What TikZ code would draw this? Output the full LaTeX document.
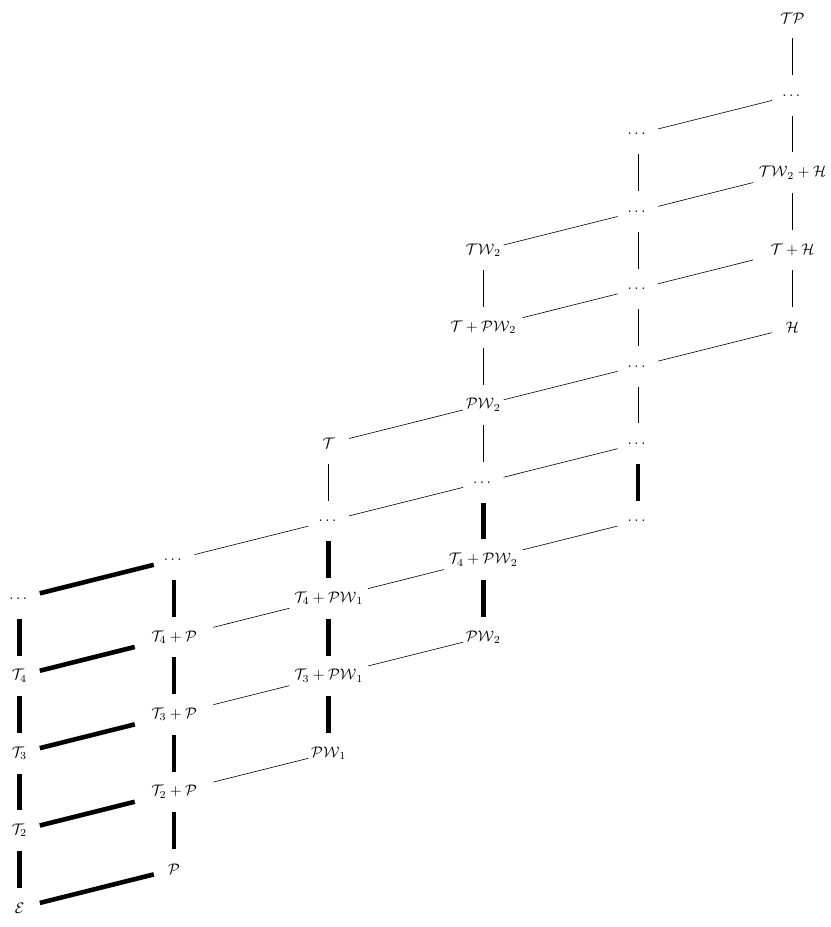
\documentclass[tikz,border=0pt]{standalone}
\usepackage{amsmath}
\begin{document}
\begin{tikzpicture}[x=0.655pt,y=-0.655pt,
  cell/.style={inner sep=0pt,minimum height=26.2pt,minimum width=26.2pt},
  widecell/.style={cell,minimum width=51.1pt},
  thickline/.style={line width=3pt},
  thinline/.style={line width=0.4pt}]
\useasboundingbox (0,0) rectangle (831,927);
\def\cx#1{19.5+154.6*#1}
\def\cy#1{908-38.7*#1}
% column 0
\node[cell] (e)  at ({\cx{0}},{\cy{0}}) {$\mathcal{E}$};
\node[cell] (t2) at ({\cx{0}},{\cy{2}}) {$\mathcal{T}_2$};
\node[cell] (t3) at ({\cx{0}},{\cy{4}}) {$\mathcal{T}_3$};
\node[cell] (t4) at ({\cx{0}},{\cy{6}}) {$\mathcal{T}_4$};
\node[cell] (d0) at ({\cx{0}},{\cy{8}}) {$\dots$};
% column 1
\node[cell]     (p)   at ({\cx{1}},{\cy{1}}) {$\mathcal{P}$};
\node[widecell] (t2p) at ({\cx{1}},{\cy{3}}) {$\mathcal{T}_2+\mathcal{P}$};
\node[widecell] (t3p) at ({\cx{1}},{\cy{5}}) {$\mathcal{T}_3+\mathcal{P}$};
\node[widecell] (t4p) at ({\cx{1}},{\cy{7}}) {$\mathcal{T}_4+\mathcal{P}$};
\node[cell]     (d1)  at ({\cx{1}},{\cy{9}}) {$\dots$};
% column 2
\node[cell]     (pw1)   at ({\cx{2}},{\cy{4}})  {$\mathcal{PW}_1$};
\node[widecell] (t3pw1) at ({\cx{2}},{\cy{6}})  {$\mathcal{T}_3+\mathcal{PW}_1$};
\node[widecell] (t4pw1) at ({\cx{2}},{\cy{8}})  {$\mathcal{T}_4+\mathcal{PW}_1$};
\node[cell]     (d2)    at ({\cx{2}},{\cy{10}}) {$\dots$};
\node[cell]     (t)     at ({\cx{2}},{\cy{12}}) {$\mathcal{T}$};
% column 3
\node[cell]     (pw2a)  at ({\cx{3}},{\cy{7}})  {$\mathcal{PW}_2$};
\node[widecell] (t4pw2) at ({\cx{3}},{\cy{9}})  {$\mathcal{T}_4+\mathcal{PW}_2$};
\node[cell]     (d3)    at ({\cx{3}},{\cy{11}}) {$\dots$};
\node[cell]     (pw2b)  at ({\cx{3}},{\cy{13}}) {$\mathcal{PW}_2$};
\node[widecell] (tpw2)  at ({\cx{3}},{\cy{15}}) {$\mathcal{T}+\mathcal{PW}_2$};
\node[cell]     (tw2)   at ({\cx{3}},{\cy{17}}) {$\mathcal{TW}_2$};
% column 4
\node[cell] (d4a) at ({\cx{4}},{\cy{10}}) {$\dots$};
\node[cell] (d4b) at ({\cx{4}},{\cy{12}}) {$\dots$};
\node[cell] (d4c) at ({\cx{4}},{\cy{14}}) {$\dots$};
\node[cell] (d4d) at ({\cx{4}},{\cy{16}}) {$\dots$};
\node[cell] (d4e) at ({\cx{4}},{\cy{18}}) {$\dots$};
\node[cell] (d4f) at ({\cx{4}},{\cy{20}}) {$\dots$};
% column 5
\node[cell]     (h)    at ({\cx{5}},{\cy{15}}) {$\mathcal{H}$};
\node[widecell] (th)   at ({\cx{5}},{\cy{17}}) {$\mathcal{T}+\mathcal{H}$};
\node[widecell] (tw2h) at ({\cx{5}},{\cy{19}}) {$\mathcal{TW}_2+\mathcal{H}$};
\node[cell]     (d5)   at ({\cx{5}},{\cy{21}}) {$\dots$};
\node[cell]     (tp)   at ({\cx{5}},{\cy{23}}) {$\mathcal{TP}$};
% thick edges
\draw[thickline] (e)--(t2) (t2)--(t3) (t3)--(t4) (t4)--(d0);
\draw[thickline] (p)--(t2p) (t2p)--(t3p) (t3p)--(t4p) (t4p)--(d1);
\draw[thickline] (pw1)--(t3pw1) (t3pw1)--(t4pw1) (t4pw1)--(d2);
\draw[thickline] (pw2a)--(t4pw2) (t4pw2)--(d3);
\draw[thickline] (d4a)--(d4b);
\draw[thickline] (e)--(p) (t2)--(t2p) (t3)--(t3p) (t4)--(t4p) (d0)--(d1);
% thin vertical edges
\draw[thinline] (d2)--(t);
\draw[thinline] (d3)--(pw2b) (pw2b)--(tpw2) (tpw2)--(tw2);
\draw[thinline] (d4b)--(d4c) (d4c)--(d4d) (d4d)--(d4e) (d4e)--(d4f);
\draw[thinline] (h)--(th) (th)--(tw2h) (tw2h)--(d5) (d5)--(tp);
% thin diagonal edges
\draw[thinline] (t2p)--(pw1) (t3p)--(t3pw1) (t4p)--(t4pw1) (d1)--(d2);
\draw[thinline] (t3pw1)--(pw2a) (t4pw1)--(t4pw2) (d2)--(d3) (t)--(pw2b);
\draw[thinline] (t4pw2)--(d4a) (d3)--(d4b) (pw2b)--(d4c) (tpw2)--(d4d) (tw2)--(d4e);
\draw[thinline] (d4c)--(h) (d4d)--(th) (d4e)--(tw2h) (d4f)--(d5);
\end{tikzpicture}
\end{document}
